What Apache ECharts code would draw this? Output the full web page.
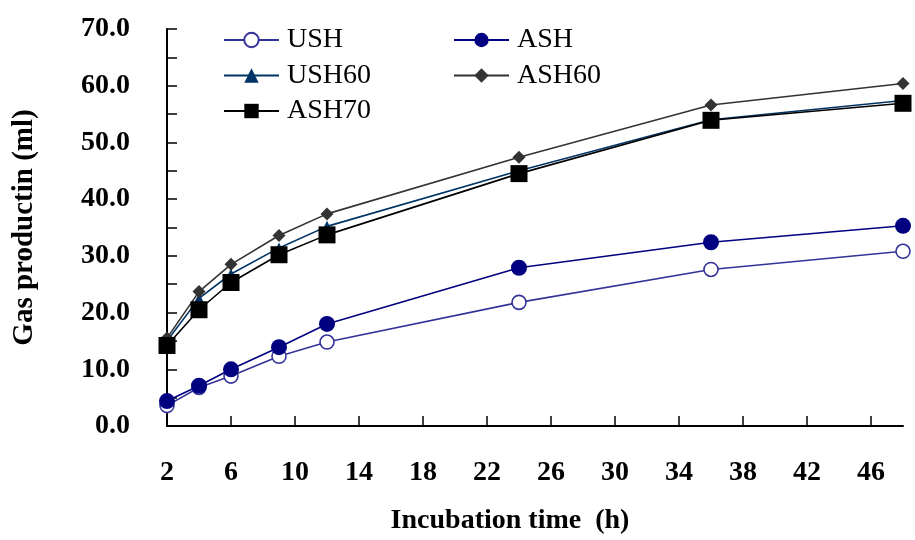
<!DOCTYPE html>
<html>
<head>
<meta charset="utf-8">
<script src="https://cdn.jsdelivr.net/npm/echarts@6/dist/echarts.min.js"></script>
<style>
  html, body { margin: 0; padding: 0; background: #fff; }
  #chart { width: 915px; height: 540px; }
</style>
</head>
<body>
<div id="chart"></div>
<script>
// incubation hours
var hours = [2, 4, 6, 9, 12, 24, 36, 48];
var xTicks = [2, 6, 10, 14, 18, 22, 26, 30, 34, 38, 42, 46];

// gas production (ml)
var ush   = [3.6, 6.8, 8.8, 12.3, 14.8, 21.8, 27.6, 30.8];
var ash   = [4.4, 7.1, 10.0, 13.9, 18.0, 27.9, 32.4, 35.3];
var ush60 = [15.0, 22.5, 26.8, 31.4, 35.2, 45.0, 54.0, 57.4];
var ash60 = [15.5, 23.7, 28.5, 33.6, 37.4, 47.4, 56.6, 60.4];
var ash70 = [14.2, 20.5, 25.3, 30.2, 33.7, 44.5, 53.9, 56.9];

var serif = '"Liberation Serif", "Times New Roman", serif';

function pairs(vals) {
    return hours.map(function (h, i) { return [h, vals[i]]; });
}

function makeSeries(name, vals, color, symbol, size, fill) {
    return {
        name: name,
        type: 'line',
        data: pairs(vals),
        symbol: symbol,
        symbolSize: size,
        showAllSymbol: true,
        animation: false,
        lineStyle: { color: color, width: 1.6 },
        itemStyle: { color: fill || color, borderColor: color, borderWidth: fill ? 1.6 : 0 }
    };
}

var legendText = { fontFamily: serif, fontSize: 28, color: '#000', padding: [0, 0, 0, 3] };

var myChart = echarts.init(document.getElementById('chart'));
myChart.setOption({
    backgroundColor: '#fff',
    animation: false,
    grid: { left: 167, right: 12, top: 29, bottom: 108, containLabel: false },
    legend: [
        {
            data: ['USH', 'USH60', 'ASH70'],
            orient: 'vertical', left: 223, top: 26, padding: 0,
            itemWidth: 55, itemHeight: 18, itemGap: 7.5,
            textStyle: legendText
        },
        {
            data: ['ASH', 'ASH60'],
            orient: 'vertical', left: 453, top: 26, padding: 0,
            itemWidth: 55, itemHeight: 18, itemGap: 7.5,
            textStyle: legendText
        }
    ],
    xAxis: {
        type: 'value',
        min: 2, max: 48,
        name: 'Incubation time  (h)',
        nameLocation: 'middle',
        nameGap: 81,
        nameTextStyle: { fontFamily: serif, fontSize: 28, fontWeight: 'bold', color: '#000', padding: [0, 50, 0, 0] },
        axisLine: { show: true, lineStyle: { color: '#000', width: 2 } },
        axisTick: { show: true, inside: true, length: 10, lineStyle: { color: '#000', width: 1.5 }, customValues: xTicks },
        axisLabel: { customValues: xTicks, margin: 33, fontFamily: serif, fontSize: 28, fontWeight: 'bold', color: '#000' },
        splitLine: { show: false }
    },
    yAxis: {
        type: 'value',
        min: 0, max: 70, interval: 5,
        name: 'Gas productin (ml)',
        nameLocation: 'middle',
        nameGap: 128,
        nameTextStyle: { fontFamily: serif, fontSize: 29, fontWeight: 'bold', color: '#000' },
        axisLine: { show: true, lineStyle: { color: '#000', width: 2 } },
        axisTick: { show: true, inside: true, length: 10, lineStyle: { color: '#000', width: 1.5 } },
        axisLabel: {
            margin: 37, fontFamily: serif, fontSize: 28, fontWeight: 'bold', color: '#000',
            formatter: function (v) { return v % 10 === 0 ? v.toFixed(1) : ''; }
        },
        splitLine: { show: false }
    },
    series: [
        makeSeries('USH', ush, '#333399', 'circle', 14, '#fff'),
        makeSeries('ASH', ash, '#000080', 'circle', 16),
        makeSeries('USH60', ush60, '#003366', 'triangle', 11),
        makeSeries('ASH60', ash60, '#333333', 'diamond', 13),
        makeSeries('ASH70', ash70, '#000000', 'rect', 17)
    ]
});
</script>
</body>
</html>
